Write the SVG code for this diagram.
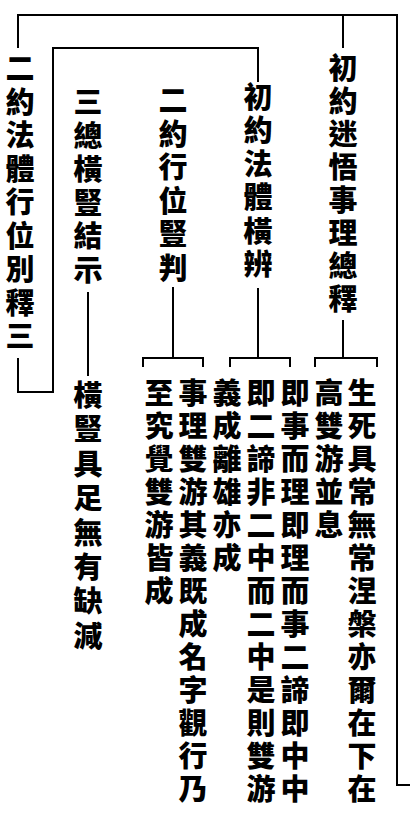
<svg xmlns="http://www.w3.org/2000/svg" width="410" height="824" viewBox="0 0 410 824">
<style>
.t{font-family:"Noto Sans CJK TC","Noto Sans CJK SC",sans-serif;font-size:29px;font-weight:900;fill:#000;writing-mode:vertical-rl;text-orientation:upright;letter-spacing:4px}
.l{fill:none;stroke:#000;stroke-width:2}
</style>
<rect width="410" height="824" fill="#fff"/>
<g id="connectors" class="l">
<polyline points="18,48 18,15 397,15 397,785 410,785"/>
<line x1="343" y1="15" x2="343" y2="48"/>
<polyline points="18,358 18,392 53,392 53,48 258,48 258,82"/>
<line x1="343" y1="320" x2="343" y2="358"/>
<polyline points="315,367 315,358 377,358 377,367"/>
<line x1="258" y1="288" x2="258" y2="358"/>
<polyline points="230,367 230,358 290,358 290,367"/>
<line x1="173" y1="287" x2="173" y2="358"/>
<polyline points="143,367 143,358 203,358 203,367"/>
<line x1="88" y1="292" x2="88" y2="376"/>
</g>
<g id="n-root2"><text class="t" x="20" y="53.5" style="letter-spacing:4.5px">二約法體行位別釋三</text></g>
<g id="n-root1"><text class="t" x="343" y="53.5">初約迷悟事理總釋</text></g>
<g id="n-b1"><text class="t" x="258" y="82.5" style="letter-spacing:4.4px">初約法體橫辨</text></g>
<g id="n-b2"><text class="t" x="173" y="85.5" style="letter-spacing:4.6px">二約行位豎判</text></g>
<g id="n-b3"><text class="t" x="88" y="87.5" style="letter-spacing:4.6px">三總橫豎結示</text></g>
<g id="n-b3-text"><text class="t" x="88" y="380.5" style="letter-spacing:5.4px">橫豎具足無有缺減</text></g>
<g id="n-a-text">
<text class="t" x="362" y="378.5">生死具常無常涅槃亦爾在下在</text>
<text class="t" x="329" y="378.5">高雙游並息</text>
</g>
<g id="n-b1-text">
<text class="t" x="295" y="378.5">即事而理即理而事二諦即中中</text>
<text class="t" x="261" y="378.5">即二諦非二中而二中是則雙游</text>
<text class="t" x="227" y="378.5">義成離雄亦成</text>
</g>
<g id="n-b2-text">
<text class="t" x="193" y="378.5">事理雙游其義既成名字觀行乃</text>
<text class="t" x="159" y="378.5">至究覺雙游皆成</text>
</g>
</svg>
